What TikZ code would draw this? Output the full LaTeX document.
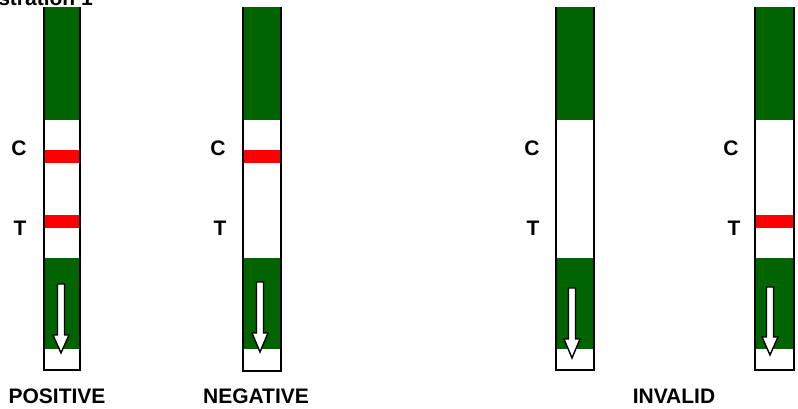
\documentclass[tikz,border=0pt]{standalone}
\usepackage{fontspec}
\setmainfont{Liberation Sans}
\definecolor{stripgreen}{RGB}{0,100,0}
\tikzset{
  stripedge/.style={line width=2pt},
  flowarrow/.style={draw=black, fill=white, line width=1.4pt, line join=miter},
  letter/.style={font=\fontsize{21}{25}\selectfont\bfseries, inner sep=0pt},
}
\begin{document}
\begin{tikzpicture}[x=1pt,y=-1pt]
		\useasboundingbox (0,0) rectangle (798,408);
		\clip (0,0) rectangle (798,408);
		
		\node[letter, anchor=base east] (title) at (93,5) {Illustration 1};
		
		% strip: left/right/bottom, arrow centre/top/base/tip, C and T label x, control line, test line
		\foreach \i/\l/\r/\b/\c/\t/\s/\p/\cx/\tx/\cl/\tl in {
			1/44/80/370/61/284/335/353/19/20/1/1,
			2/243/281/371/260/282/333/352/218/220/1/0,
			3/556/594/370/572/288/339/358/532/533/0/0,
			4/755/794/370/770/287/337/355/731/734/0/1}{
			\fill[stripgreen] (\l,7) rectangle (\r,120);
			\fill[stripgreen] (\l,258) rectangle (\r,349);
			\ifnum\cl=1 \fill[red] (\l,150) rectangle (\r,163); \fi
			\ifnum\tl=1 \fill[red] (\l,215) rectangle (\r,228); \fi
			\draw[stripedge] (\l,7) -- (\l,\b) -- (\r,\b) -- (\r,7);
			\draw[flowarrow] ({\c-3.5},\t) -- ({\c+3.5},\t) -- ({\c+3.5},\s) -- ({\c+8},\s)
				-- (\c,\p) -- ({\c-8},\s) -- ({\c-3.5},\s) -- cycle;
			\node[letter] (c\i) at (\cx,148) {C};
			\node[letter] (t\i) at (\tx,228) {T};
		}
		
		\node[letter] (positive) at (57,396) {POSITIVE};
		\node[letter] (negative) at (256,396) {NEGATIVE};
		\node[letter] (invalid) at (674,396) {INVALID};
\end{tikzpicture}
\end{document}
